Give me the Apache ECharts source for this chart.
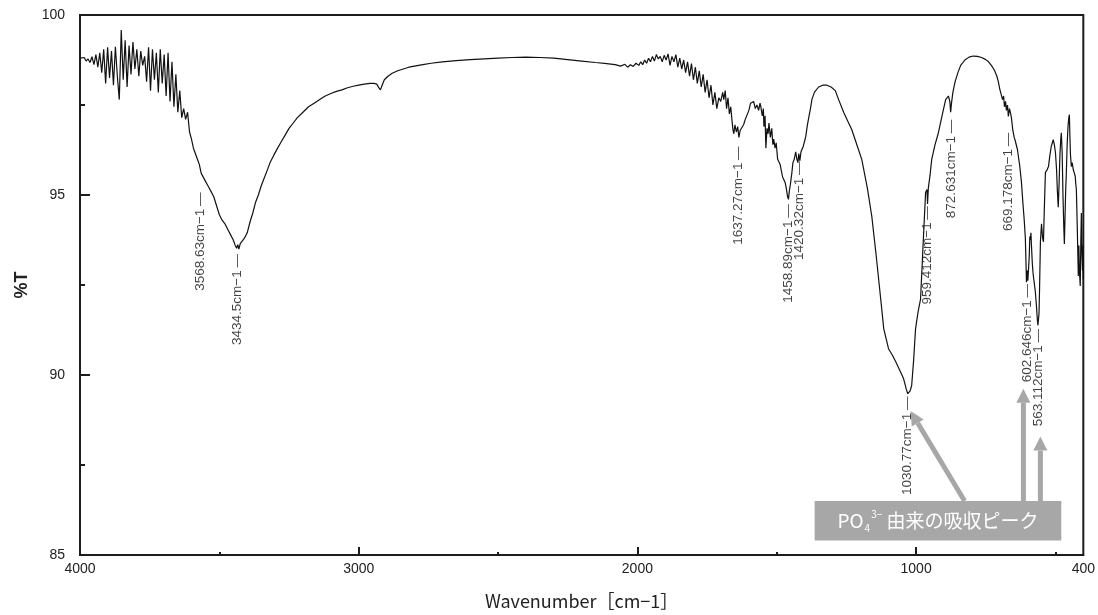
<!DOCTYPE html>
<html><head><meta charset="utf-8">
<script src="https://cdn.jsdelivr.net/npm/echarts@6/dist/echarts.min.js"></script>
<style>html,body{margin:0;padding:0;background:#fff}#c{width:1098px;height:615px}</style>
</head><body><div id="c"></div>
<script>
// ---- data (wavenumber cm-1, %T) ----
const spectrum = [
[3999,98.80],[3992,98.76],[3985,98.82],[3978,98.72],[3971,98.78],[3964,98.68],[3957,98.84],[3950,98.62],[3943,98.90],[3936,98.55],
[3929,98.95],[3922,98.40],[3915,99.05],[3908,98.10],[3901,99.10],[3894,98.25],[3887,99.00],[3880,98.05],[3873,99.12],[3866,98.30],
[3859,97.65],[3852,99.58],[3845,98.20],[3838,99.30],[3831,98.00],[3824,99.15],[3817,98.35],[3810,99.25],[3803,98.50],[3796,99.05],
[3789,98.30],[3782,99.00],[3775,98.60],[3768,98.85],[3761,98.15],[3754,99.10],[3747,97.90],[3740,99.05],[3733,98.20],[3726,98.95],
[3719,97.85],[3712,99.05],[3705,98.10],[3698,98.90],[3691,97.75],[3684,98.95],[3677,97.60],[3670,98.70],[3663,97.45],[3656,98.35],
[3649,97.30],[3642,97.90],[3635,97.15],[3628,97.40],[3621,97.10],[3614,97.30],[3607,96.75],[3600,96.55],[3593,96.30],[3586,96.25],
[3579,96.00],[3572,95.85],[3565,95.60],[3558,95.65],[3551,95.40],[3544,95.30],[3537,95.20],[3530,95.10],[3520,94.95],[3510,94.70],
[3500,94.45],[3490,94.30],[3480,94.20],[3470,94.05],[3460,93.90],[3450,93.75],[3443,93.60],[3438,93.52],[3434,93.62],[3430,93.50],
[3425,93.65],[3418,93.70],[3410,93.80],[3400,93.95],[3390,94.25],[3380,94.50],[3370,94.80],[3360,95.00],[3350,95.25],[3340,95.45],
[3330,95.65],[3318,95.90],[3305,96.10],[3294,96.26],[3280,96.45],[3265,96.65],[3250,96.85],[3235,97.00],[3220,97.15],[3200,97.30],
[3180,97.45],[3160,97.55],[3140,97.65],[3120,97.75],[3100,97.82],[3080,97.88],[3060,97.92],[3040,97.98],[3020,98.02],[3000,98.05],
[2980,98.08],[2960,98.10],[2945,98.10],[2935,98.08],[2928,97.98],[2922,97.92],[2916,98.05],[2908,98.20],[2895,98.30],[2880,98.38],
[2860,98.45],[2840,98.50],[2820,98.55],[2800,98.58],[2770,98.62],[2740,98.66],[2700,98.70],[2650,98.73],[2600,98.76],[2550,98.78],
[2500,98.80],[2450,98.82],[2400,98.83],[2350,98.82],[2300,98.80],[2250,98.76],[2200,98.72],[2150,98.68],[2110,98.65],[2080,98.62],
[2060,98.58],[2045,98.63],[2035,98.55],[2025,98.62],[2015,98.57],[2005,98.66],[1995,98.60],[1988,98.70],[1981,98.62],[1974,98.75],
[1967,98.66],[1960,98.80],[1953,98.70],[1946,98.85],[1939,98.72],[1932,98.90],[1925,98.78],[1918,98.85],[1911,98.70],[1904,98.88],
[1897,98.75],[1890,98.92],[1883,98.60],[1876,98.85],[1869,98.70],[1862,98.90],[1855,98.55],[1848,98.80],[1841,98.50],[1834,98.75],
[1827,98.40],[1820,98.70],[1813,98.30],[1806,98.65],[1799,98.20],[1792,98.55],[1785,98.10],[1778,98.45],[1771,98.00],[1764,98.35],
[1757,97.85],[1750,98.20],[1743,97.70],[1736,98.05],[1729,97.50],[1722,97.85],[1715,97.40],[1708,97.70],[1701,97.60],[1694,97.85],
[1690,97.65],[1685,97.90],[1680,97.40],[1675,97.70],[1670,97.25],[1665,97.45],[1661,97.10],[1657,96.80],[1654,96.70],[1650,96.95],
[1645,96.75],[1640,96.90],[1636,96.60],[1631,96.80],[1625,96.75],[1619,96.95],[1613,97.10],[1607,97.10],[1600,97.35],[1594,97.55],
[1589,97.50],[1583,97.60],[1577,97.40],[1571,97.50],[1565,97.35],[1560,97.55],[1557,97.45],[1552,97.20],[1548,97.40],[1546,96.90],
[1542,97.20],[1539,96.30],[1535,96.85],[1531,96.70],[1528,97.00],[1523,96.60],[1518,96.85],[1514,96.40],[1511,96.55],[1506,96.30],
[1502,96.45],[1497,96.00],[1493,96.05],[1488,95.85],[1484,95.90],[1479,95.50],[1475,95.45],[1470,95.35],[1466,95.20],[1461,94.95],
[1458,94.88],[1455,95.10],[1451,95.30],[1446,95.60],[1442,95.90],[1437,96.00],[1432,96.20],[1428,96.00],[1424,95.90],[1421,96.15],
[1417,95.95],[1413,96.20],[1410,96.20],[1405,96.35],[1400,96.50],[1396,96.62],[1390,96.95],[1384,97.20],[1378,97.45],[1374,97.65],
[1365,97.85],[1350,98.00],[1335,98.05],[1320,98.05],[1305,98.00],[1290,97.90],[1278,97.65],[1260,97.30],[1245,97.05],[1231,96.82],
[1215,96.45],[1195,95.99],[1175,95.20],[1159,94.41],[1143,93.30],[1127,92.11],[1116,91.28],[1099,90.73],[1085,90.55],[1073,90.37],
[1060,90.15],[1045,89.90],[1035,89.60],[1030,89.48],[1026,89.45],[1022,89.55],[1016,89.70],[1009,90.40],[1002,91.28],[993,91.75],
[984,92.11],[975,93.60],[966,95.07],[961,95.15],[959,94.75],[956,95.20],[950,95.55],[944,95.99],[932,96.40],[920,96.73],
[907,97.20],[894,97.65],[884,97.75],[879,97.60],[876,97.30],[873,97.55],[868,97.85],[860,98.15],[850,98.40],[840,98.60],
[825,98.75],[810,98.83],[795,98.86],[780,98.85],[765,98.82],[750,98.76],[740,98.70],[730,98.60],[720,98.48],[711,98.32],
[705,98.15],[700,97.95],[695,97.80],[690,97.65],[686,97.75],[683,97.45],[679,97.60],[676,97.35],[672,97.50],[669,97.18],
[665,97.40],[662,97.30],[658,97.15],[653,96.80],[648,96.60],[644,96.50],[640,96.46],[636,96.25],[633,96.07],[628,95.80],
[622,95.35],[617,94.80],[612,94.30],[608,93.80],[606,93.20],[604,92.58],[601,92.90],[599,92.62],[597,92.67],[594,93.30],
[592,93.85],[590,93.75],[588,93.95],[586,93.58],[583,93.10],[580,92.80],[576,92.55],[572,92.30],[568,91.90],[565,91.55],
[563,91.38],[561,91.36],[559,91.70],[557,92.40],[554,93.69],[550,94.20],[546,93.80],[543,93.70],[540,94.60],[536,95.63],
[530,95.70],[525,95.79],[520,96.10],[515,96.35],[511,96.45],[508,96.54],[504,96.40],[500,96.18],[496,95.70],[493,95.10],
[490,94.66],[487,95.30],[484,96.10],[481,96.55],[479,96.73],[476,96.20],[473,95.00],[470,94.10],[468,93.64],[465,94.60],
[463,95.20],[461,95.60],[458,96.40],[455,96.90],[452,97.15],[450,97.23],[448,96.60],[446,96.10],[443,95.79],[440,95.90],
[436,95.70],[432,95.60],[429,95.52],[427,95.30],[425,95.16],[422,94.20],[420,93.50],[418,92.75],[416,93.60],[414,92.90],
[411,92.47],[409,93.70],[407,94.50],[405,93.40],[403,92.90],[402,93.60],[400,92.67]
];
const peakWavenumbers = [3568.63, 3434.5, 1637.27, 1458.89, 1420.32, 1030.77, 959.412, 872.631, 669.178, 602.646, 563.112];
const peakMarkerT     = [95.07, 93.36, 96.35, 94.74, 95.93, 89.40, 94.69, 97.09, 96.73, 92.53, 91.28];
const xTickLabels = [4000, 3000, 2000, 1000, 400];
const xMajorTicks = [3000, 2000, 1000];
const xMinorTicks = [3500, 2500, 1500, 500];
const yMin = 85, yMax = 100, yStep = 5;
const noteText = '由来の吸収ピーク';
// annotation geometry in data coordinates [wavenumber, %T]
const noteBox = [[1364, 86.50], [479, 85.40]];
const noteArrows = [
  [[826, 86.50], [1020, 89.00]],
  [[615, 86.50], [615, 89.62]],
  [[554, 86.50], [554, 88.29]]
];

const axisColor = '#1c1c1c';
const chart = echarts.init(document.getElementById('c'), null, {renderer: 'canvas'});
chart.setOption({
  animation: false,
  backgroundColor: '#ffffff',
  grid: {left: 80, right: 13, top: 15, bottom: 58, show: true, borderColor: axisColor, borderWidth: 2, backgroundColor: 'transparent'},
  xAxis: [{
    type: 'value', min: 400, max: 4000, inverse: true,
    name: 'Wavenumber［cm−1］', nameLocation: 'middle', nameGap: 37,
    nameTextStyle: {fontFamily: 'Noto Sans CJK JP', fontSize: 18, color: '#222'},
    axisLine: {show: true, onZero: false, lineStyle: {color: axisColor, width: 2}},
    axisTick: {show: true, inside: true, length: 8, customValues: xMajorTicks, lineStyle: {color: axisColor, width: 2}},
    axisLabel: {show: true, customValues: xTickLabels, margin: 7, fontSize: 14, color: '#222', fontFamily: 'Liberation Sans', formatter: v => String(v)},
    splitLine: {show: false}
  }, {
    type: 'value', min: 400, max: 4000, inverse: true, position: 'bottom',
    axisLine: {show: false}, axisLabel: {show: false},
    axisTick: {show: true, inside: true, length: 3, customValues: xMinorTicks, lineStyle: {color: axisColor, width: 2}},
    splitLine: {show: false}
  }],
  yAxis: {
    type: 'value', min: yMin, max: yMax, interval: yStep,
    name: '%T', nameLocation: 'middle', nameGap: 40, nameRotate: 90,
    nameTextStyle: {fontFamily: 'Liberation Sans', fontSize: 18, fontWeight: 'bold', color: '#222'},
    axisLine: {show: true, lineStyle: {color: axisColor, width: 2}},
    axisTick: {show: true, inside: true, length: 10, lineStyle: {color: axisColor, width: 2}},
    minorTick: {show: true, splitNumber: 2, length: 5, lineStyle: {color: axisColor, width: 2}},
    axisLabel: {margin: 15, fontSize: 14, color: '#222', fontFamily: 'Liberation Sans'},
    splitLine: {show: false}
  },
  series: [{
    type: 'line', data: spectrum, showSymbol: false, symbol: 'none',
    lineStyle: {color: '#111', width: 1.2}, z: 3
  }, {
    type: 'scatter', symbolSize: 0, z: 4,
    data: peakWavenumbers.map((w, i) => [w, peakMarkerT[i]]),
    label: {
      show: true, position: 'inside', rotate: 90, align: 'right', verticalAlign: 'middle',
      formatter: p => p.value[0] + 'cm−1\u2009—',
      fontFamily: 'Liberation Sans', fontSize: 13.5, color: '#111'
    }
  }]
});

function px(p) { return chart.convertToPixel({xAxisIndex: 0, yAxisIndex: 0}, p); }
const grey = '#a7a7a7';
const g = [];
const b1 = px(noteBox[0]), b2 = px(noteBox[1]);
g.push({type: 'rect', shape: {x: b1[0], y: b1[1], width: b2[0] - b1[0], height: b2[1] - b1[1]}, style: {fill: grey}, z: 10});
noteArrows.forEach(a => {
  const f = px(a[0]), t = px(a[1]);
  const dx = t[0] - f[0], dy = t[1] - f[1], L = Math.hypot(dx, dy), ux = dx / L, uy = dy / L;
  const hl = 14, hw = 7;
  const bx = t[0] - ux * hl, by = t[1] - uy * hl;
  g.push({type: 'line', shape: {x1: f[0], y1: f[1], x2: bx, y2: by}, style: {stroke: grey, lineWidth: 5}, z: 10});
  g.push({type: 'polygon', shape: {points: [[t[0], t[1]], [bx - uy * hw, by + ux * hw], [bx + uy * hw, by - ux * hw]]}, style: {fill: grey}, z: 10});
});
g.push({
  type: 'text', x: (b1[0] + b2[0]) / 2, y: (b1[1] + b2[1]) / 2, z: 11,
  style: {
    text: '{a|PO}{s|4}{p|3−}{b| ' + noteText + '}',
    align: 'center', verticalAlign: 'middle', textAlign: 'center', textVerticalAlign: 'middle',
    fill: '#fff',
    rich: {
      a: {fontSize: 19, fontFamily: 'Noto Sans CJK JP', fill: '#fff', lineHeight: 24},
      s: {fontSize: 10, fontFamily: 'Noto Sans CJK JP', fill: '#fff', verticalAlign: 'bottom', lineHeight: 24, padding: [0, 1, 0, 1]},
      p: {fontSize: 10, fontFamily: 'Noto Sans CJK JP', fill: '#fff', verticalAlign: 'top', lineHeight: 24},
      b: {fontSize: 19, fontFamily: 'Noto Sans CJK JP', fill: '#fff', lineHeight: 24}
    }
  }
});
chart.setOption({graphic: g});
</script>
</body></html>
